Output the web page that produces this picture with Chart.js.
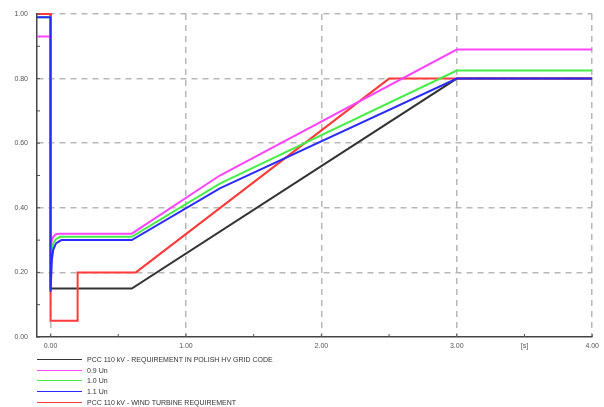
<!DOCTYPE html>
<html>
<head>
<meta charset="utf-8">
<script src="https://cdn.jsdelivr.net/npm/chart.js@4.4.0/dist/chart.umd.min.js"></script>
<style>
    body { margin: 0; background: #fff; }
    #wrap { position: relative; width: 604px; height: 407px; }
    #legend { position: absolute; left: 37px; top: 354px; font-family: "Liberation Sans", Arial, sans-serif; font-size: 7px; color: #333; }
    .item { height: 10.7px; display: flex; align-items: center; }
    .swatch { width: 45px; height: 0; border-top: 1.5px solid; margin-right: 5px; }
</style>
</head>
<body>
<div id="wrap">
    <canvas id="chart" width="604" height="407"></canvas>
    <div id="legend"></div>
</div>
<script>
// Series labels
const seriesLabels = [
    'PCC 110 kV - REQUIREMENT IN POLISH HV GRID CODE',
    '0.9 Un',
    '1.0 Un',
    '1.1 Un',
    'PCC 110 kV - WIND TURBINE REQUIREMENT'
];

// Time [s] and value [pu]
const gridCodeT = [-0.1, 0, 0, 0.6, 3.0, 4.0];
const gridCodeV = [1.0, 1.0, 0.15, 0.15, 0.8, 0.8];

const un09T = [-0.1, 0, 0, 0.01, 0.02, 0.04, 0.07, 0.6, 1.25, 3.0, 4.0];
const un09V = [0.93, 0.93, 0.28, 0.30, 0.31, 0.318, 0.32, 0.32, 0.50, 0.89, 0.89];

const un10T = [-0.1, 0, 0, 0.01, 0.02, 0.04, 0.07, 0.6, 1.25, 3.0, 4.0];
const un10V = [0.99, 0.99, 0.20, 0.27, 0.29, 0.303, 0.31, 0.31, 0.475, 0.825, 0.825];

const un11T = [-0.1, 0, 0, 0.01, 0.02, 0.04, 0.08, 0.6, 1.25, 3.0, 4.0];
const un11V = [0.99, 0.99, 0.14, 0.24, 0.27, 0.29, 0.30, 0.30, 0.46, 0.80, 0.80];

const turbineT = [-0.1, 0, 0, 0.2, 0.2, 0.63, 2.5, 4.0];
const turbineV = [1.0, 1.0, 0.05, 0.05, 0.2, 0.2, 0.8, 0.8];

// Tick positions
const xTickValues = [0, 0.5, 1, 1.5, 2, 2.5, 3, 3.5, 4];
const yTickValues = [0, 0.1, 0.2, 0.3, 0.4, 0.5, 0.6, 0.7, 0.8, 0.9, 1.0];

const seriesColors = ['#333333', '#ff44ff', '#44ee44', '#2a2aff', '#ff3a3a'];
const drawOrder = [5, 2, 3, 1, 4];

function toPoints(t, v) {
    return t.map((x, i) => ({ x: x, y: v[i] }));
}

const seriesData = [
    toPoints(gridCodeT, gridCodeV),
    toPoints(un09T, un09V),
    toPoints(un10T, un10V),
    toPoints(un11T, un11V),
    toPoints(turbineT, turbineV)
];

function isMultiple(v, step) {
    return Math.abs(v / step - Math.round(v / step)) < 1e-6;
}

// short inner ticks on the axes
const minorTicks = {
    id: 'minorTicks',
    afterDraw(chart) {
        const ctx = chart.ctx;
        const xs = chart.scales.x, ys = chart.scales.y;
        const area = chart.chartArea;
        ctx.save();
        ctx.strokeStyle = '#555';
        ctx.lineWidth = 1;
        ctx.beginPath();
        xTickValues.forEach(v => {
            const px = xs.getPixelForValue(v);
            ctx.moveTo(px, area.bottom);
            ctx.lineTo(px, area.bottom - 3);
        });
        yTickValues.forEach(v => {
            const py = ys.getPixelForValue(v);
            ctx.moveTo(area.left, py);
            ctx.lineTo(area.left + 3, py);
        });
        ctx.stroke();
        ctx.restore();
    }
};

const chart = new Chart(document.getElementById('chart').getContext('2d'), {
    type: 'line',
    data: {
        datasets: seriesLabels.map((label, i) => ({
            label: label,
            data: seriesData[i],
            borderColor: seriesColors[i],
            backgroundColor: seriesColors[i],
            borderWidth: 2,
            pointRadius: 0,
            tension: 0,
            clip: false,
            order: drawOrder[i]
        }))
    },
    options: {
        responsive: false,
        animation: false,
        layout: { padding: { top: 14, right: 9, left: 0, bottom: 0 } },
        plugins: {
            legend: { display: false },
            tooltip: { enabled: false }
        },
        scales: {
            x: {
                type: 'linear',
                min: -0.1,
                max: 4.0,
                afterBuildTicks: scale => { scale.ticks = xTickValues.map(v => ({ value: v })); },
                afterFit: scale => { scale.height = 70; },
                ticks: {
                    autoSkip: false,
                    maxRotation: 0,
                    padding: 5,
                    color: '#555',
                    font: { family: 'Liberation Sans', size: 7 },
                    callback: v => isMultiple(v, 1) ? v.toFixed(2) : (v === 3.5 ? '[s]' : '')
                },
                grid: {
                    drawTicks: false,
                    lineWidth: 1.5,
                    color: c => (c.tick && isMultiple(c.tick.value, 1)) ? '#b8b8b8' : 'rgba(0,0,0,0)'
                },
                border: { display: true, color: '#444', width: 1.5, dash: [6, 5] }
            },
            y: {
                type: 'linear',
                min: 0,
                max: 1.0,
                afterBuildTicks: scale => { scale.ticks = yTickValues.map(v => ({ value: v })); },
                afterFit: scale => { scale.width = 37; },
                ticks: {
                    autoSkip: false,
                    padding: 9,
                    color: '#555',
                    font: { family: 'Liberation Sans', size: 7 },
                    callback: v => isMultiple(v, 0.2) ? v.toFixed(2) : ''
                },
                grid: {
                    drawTicks: false,
                    lineWidth: 1.5,
                    color: c => (c.tick && c.tick.value > 0 && isMultiple(c.tick.value, 0.2)) ? '#b8b8b8' : 'rgba(0,0,0,0)'
                },
                border: { display: true, color: '#444', width: 1.5, dash: [6, 5] }
            }
        }
    },
    plugins: [minorTicks]
});

// legend as text below the chart, in series order
const legendEl = document.getElementById('legend');
chart.data.datasets.forEach(ds => {
    const row = document.createElement('div');
    row.className = 'item';
    const sw = document.createElement('span');
    sw.className = 'swatch';
    sw.style.borderColor = ds.borderColor;
    const txt = document.createElement('span');
    txt.textContent = ds.label;
    row.appendChild(sw);
    row.appendChild(txt);
    legendEl.appendChild(row);
});
</script>
</body>
</html>
